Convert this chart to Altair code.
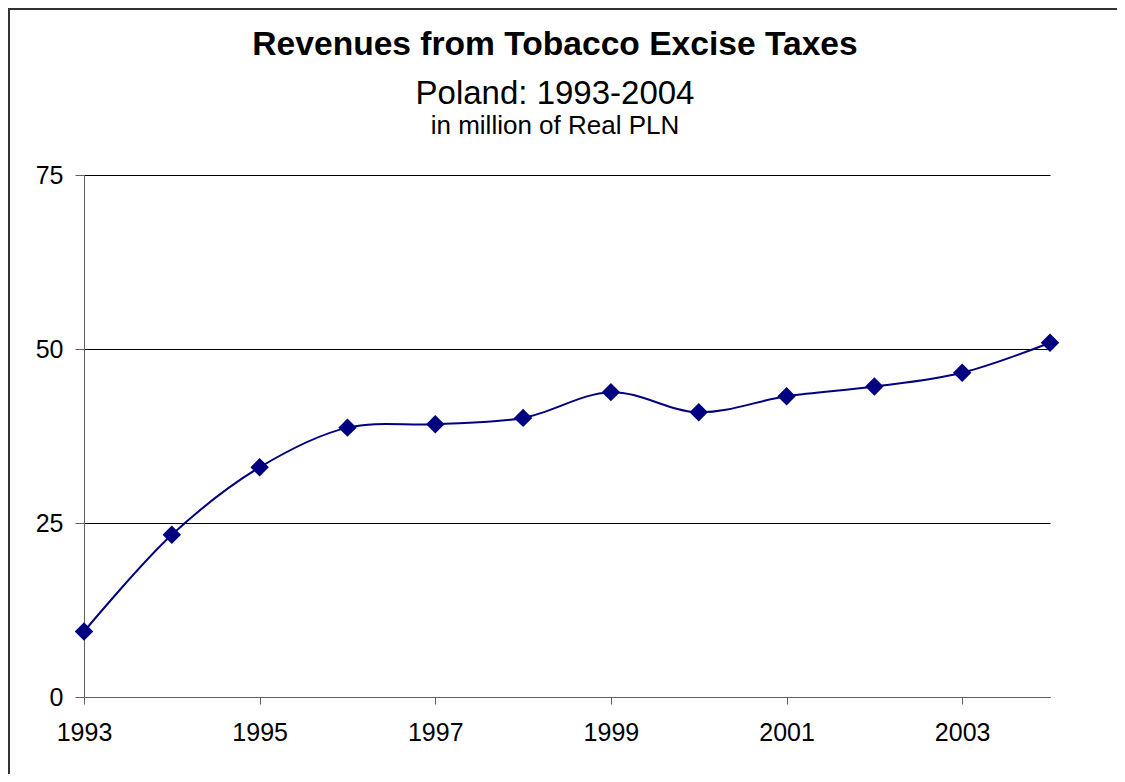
import altair as alt
import pandas as pd

years = [1993, 1994, 1995, 1996, 1997, 1998, 1999, 2000, 2001, 2002, 2003, 2004]
revenues = [9.4, 23.3, 33.0, 38.7, 39.2, 40.1, 43.8, 40.9, 43.2, 44.6, 46.6, 50.9]
x_ticks = [1993, 1995, 1997, 1999, 2001, 2003]
y_ticks = [0, 25, 50, 75]
title_lines = ["Revenues from Tobacco Excise Taxes", "Poland: 1993-2004", "in million of Real PLN"]

df = pd.DataFrame({"year": years, "value": revenues})
one = pd.DataFrame({"a": [0]})

FONT = "Liberation Sans"
NAVY = "#000080"

x = alt.X("year:Q", scale=alt.Scale(domain=[1993, 2004], nice=False, zero=False),
          axis=alt.Axis(values=x_ticks, format="d", grid=False, tickSize=7, tickColor="#606060",
                        domainColor="#606060", labelFontSize=25, labelPadding=16,
                        labelFlush=False, labelColor="black", labelFont=FONT, title=None))
y = alt.Y("value:Q", scale=alt.Scale(domain=[0, 75], nice=False),
          axis=alt.Axis(values=y_ticks, grid=True, gridColor="black", gridWidth=1,
                        tickSize=9, tickColor="#606060", domainColor="#606060",
                        labelFontSize=25, labelPadding=12, labelFlush=False, labelColor="black",
                        labelFont=FONT, title=None))

base = alt.Chart(df)
line = base.mark_line(color=NAVY, strokeWidth=2, interpolate="catmull-rom").encode(x=x, y=y)
pts = base.mark_point(shape="diamond", filled=True, size=340, color=NAVY, opacity=1).encode(x=x, y=y)

t1 = alt.Chart(one).mark_text(text=title_lines[0], font=FONT, fontSize=33.6, fontWeight="bold",
                              align="center", baseline="alphabetic", color="black").encode(
    x=alt.value(471), y=alt.value(-120))
t2 = alt.Chart(one).mark_text(text=title_lines[1], font=FONT, fontSize=33,
                              align="center", baseline="alphabetic", color="black").encode(
    x=alt.value(471), y=alt.value(-71))
t3 = alt.Chart(one).mark_text(text=title_lines[2], font=FONT, fontSize=26,
                              align="center", baseline="alphabetic", color="black").encode(
    x=alt.value(471), y=alt.value(-41))

frame_left = alt.Chart(one).mark_rule(color="#333333", strokeWidth=2).encode(
    x=alt.value(-75), y=alt.value(-167), y2=alt.value(620))
frame_top = alt.Chart(one).mark_rule(color="#333333", strokeWidth=2).encode(
    x=alt.value(-76), x2=alt.value(1033), y=alt.value(-166))

chart = alt.layer(frame_left, frame_top, line, pts, t1, t2, t3).properties(
    width=966, height=522,
    autosize=alt.AutoSizeParams(type="none"),
    padding={"left": 76, "top": 167, "right": 67, "bottom": 77},
).configure(background="white").configure_view(stroke=None, strokeWidth=0)

chart.save("out.html", embed_options={"renderer": "svg", "actions": False})
